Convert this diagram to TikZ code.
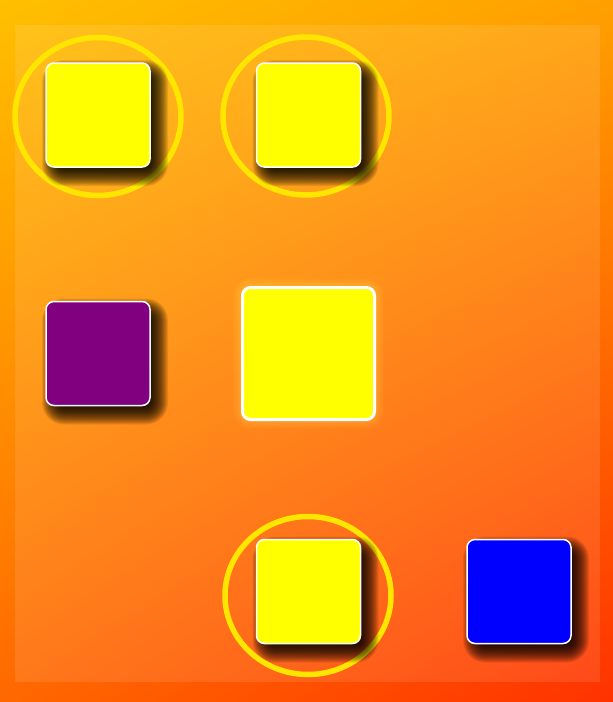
\documentclass[tikz,border=0pt]{standalone}
\usetikzlibrary{shapes.geometric,shadings}
\definecolor{bgTL}{RGB}{255,192,0}
\definecolor{bgTR}{RGB}{255,160,0}
\definecolor{bgBL}{RGB}{255,104,0}
\definecolor{bgBR}{RGB}{255,50,0}
\definecolor{ringgold}{RGB}{255,230,0}
\definecolor{sqyellow}{RGB}{255,255,0}
\definecolor{sqpurple}{RGB}{128,0,128}
\definecolor{sqblue}{RGB}{0,0,255}
\tikzset{
  tile/.style={rectangle, minimum size=104pt, inner sep=0pt, rounded corners=8pt,
    draw=white, line width=1.5pt, fill=#1},
  bigtile/.style={rectangle, minimum size=132pt, inner sep=0pt, rounded corners=8pt,
    draw=white, line width=3pt, fill=sqyellow},
  shadowlayer/.style={fill=black, opacity=0.09},
  glowlayer/.style={fill=yellow!60!white, opacity=0.035},
  ring/.style={ellipse, draw=ringgold, line width=5.5pt, inner sep=0pt,
    minimum width=166pt, minimum height=158pt}
}
% soft shadow: centre x, centre y
\newcommand\softshadow[2]{%
  \foreach \k [evaluate=\k as \d using -9+\k,
               evaluate=\k as \rc using 2+\k] in {0,...,20}{%
    \fill[shadowlayer, rounded corners=\rc pt]
      (#1+7-52-\d,#2+8-52-\d) rectangle (#1+7+52+\d,#2+8+52+\d);
  }%
}
\newcommand\softglow[2]{%
  \foreach \k [evaluate=\k as \d using 1.2*\k,
               evaluate=\k as \rc using 8+1.2*\k] in {1,...,8}{%
    \fill[glowlayer, rounded corners=\rc pt]
      (#1-66-\d,#2-66-\d) rectangle (#1+66+\d,#2+66+\d);
  }%
}
\begin{document}
\begin{tikzpicture}[x=1pt,y=-1pt]
\useasboundingbox (0,0) rectangle (613,702);
\shade[upper left=bgTL, upper right=bgTR, lower left=bgBL, lower right=bgBR] (0,0) rectangle (613,702);
\fill[white, opacity=0.1] (15,25) rectangle (600,682);
\node[ring] (r1) at (98,116.5) {};
\node[ring] (r2) at (306,116) {};
\node[ring] (r3) at (308,595.5) {};
\softshadow{98}{115}
\softshadow{308.5}{115}
\softshadow{98}{353.5}
\softshadow{308.5}{591.5}
\softshadow{519}{591.5}
\softglow{308.5}{353.5}
\node[tile=sqyellow] (a) at (98,115) {};
\node[tile=sqyellow] (b) at (308.5,115) {};
\node[tile=sqpurple] (c) at (98,353.5) {};
\node[bigtile] (d) at (308.5,353.5) {};
\node[tile=sqyellow] (e) at (308.5,591.5) {};
\node[tile=sqblue] (f) at (519,591.5) {};
\end{tikzpicture}
\end{document}
